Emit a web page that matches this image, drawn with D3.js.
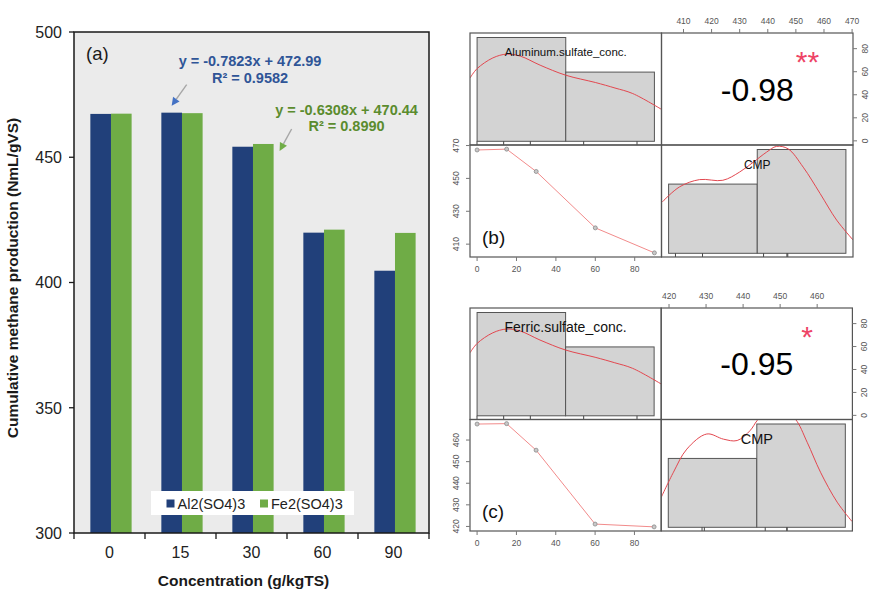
<!DOCTYPE html>
<html><head><meta charset="utf-8">
<script src="https://cdn.jsdelivr.net/npm/d3@7"></script>
<style>body{margin:0;background:#fff}svg{display:block;font-family:Arial,"Liberation Sans",sans-serif}</style>
</head><body><svg id="c" width="886" height="592"></svg>
<script>
// ---------- data ----------
const categories = ["0", "15", "30", "60", "90"];
const concentrations = [0, 15, 30, 60, 90];
const seriesNames = ["Al2(SO4)3", "Fe2(SO4)3"];
const alValues = [467.3, 467.8, 454.2, 419.9, 404.7];
const feValues = [467.4, 467.6, 455.3, 421.1, 419.8];
const yTicksA = [300, 350, 400, 450, 500];
const fitAlText = ["y = -0.7823x + 472.99", "R\u00B2 = 0.9582"];
const fitFeText = ["y = -0.6308x + 470.44", "R\u00B2 = 0.8990"];

const concDensity = [[-3.6,1.83],[0,2.1],[8,2.41],[15,2.52],[22,2.46],[32,2.2],[45,1.91],[60,1.7],[70,1.54],[79,1.38],[94,0.91]];
const alDensity = [[402.4,1.48],[408.6,1.92],[415.7,2.13],[424,2.11],[430,2.35],[434.8,2.63],[439.5,2.92],[443.1,3.09],[447.2,3.02],[452.6,2.49],[458.6,1.73],[464.5,0.96],[470.4,0.38]];
const feDensity = [[417.9,0.87],[421.2,1.6],[424.8,2.27],[430.2,2.71],[434.7,2.56],[438.4,2.52],[441.9,2.81],[443.8,3.1],[447,3.42],[451,3.36],[454.1,3.14],[457.3,2.47],[460.9,1.6],[465.4,0.73],[469.4,0.17]];

const concTicks = [0, 20, 40, 60, 80];
const alTopTicks = [410, 420, 430, 440, 450, 460, 470];
const alLeftTicks = [410, 430, 450, 470];
const feTopTicks = [420, 430, 440, 450, 460];
const feLeftTicks = [420, 430, 440, 450, 460];
const corrAl = "-0.98", starsAl = "**";
const corrFe = "-0.95", starsFe = "*";

// ---------- panel (a) ----------
const svg = d3.select("#c");
const A = {left: 74, right: 429, top: 32, bottom: 533};
const colors = {"Al2(SO4)3": "#21407a", "Fe2(SO4)3": "#6fac46"};

const x0 = d3.scaleBand().domain(categories).range([A.left, A.right]).padding(0);
const x1 = d3.scaleBand().domain(seriesNames).range([0, x0.bandwidth()])
  .paddingInner(0).paddingOuter(0.72).align(0.55);
const yA = d3.scaleLinear().domain([300, 500]).range([A.bottom, A.top]);

const gA = svg.append("g");
gA.append("rect").attr("x", A.left).attr("y", A.top)
  .attr("width", A.right - A.left).attr("height", A.bottom - A.top).attr("fill", "#ebebeb");

const seriesData = {"Al2(SO4)3": alValues, "Fe2(SO4)3": feValues};
seriesNames.forEach(s => {
  gA.selectAll(null).data(categories).enter().append("rect")
    .attr("x", (c) => x0(c) + x1(s))
    .attr("width", x1.bandwidth())
    .attr("y", (c, i) => yA(seriesData[s][i]))
    .attr("height", (c, i) => A.bottom - yA(seriesData[s][i]))
    .attr("fill", colors[s]);
});

gA.append("rect").attr("x", A.left).attr("y", A.top)
  .attr("width", A.right - A.left).attr("height", A.bottom - A.top)
  .attr("fill", "none").attr("stroke", "#1a1a1a").attr("stroke-width", 1.5);

// y ticks
yTicksA.forEach(t => {
  gA.append("line").attr("x1", A.left - 5).attr("x2", A.left).attr("y1", yA(t)).attr("y2", yA(t))
    .attr("stroke", "#1a1a1a").attr("stroke-width", 1.3);
  gA.append("text").attr("x", A.left - 12).attr("y", yA(t)).attr("dy", "0.36em")
    .attr("text-anchor", "end").attr("font-size", 16).attr("fill", "#222").text(t);
});
// x ticks at band boundaries
categories.concat([null]).forEach((c, i) => {
  const xx = c === null ? A.right : x0(c);
  gA.append("line").attr("x1", xx).attr("x2", xx).attr("y1", A.bottom).attr("y2", A.bottom + 6)
    .attr("stroke", "#1a1a1a").attr("stroke-width", 1.3);
});
categories.forEach(c => {
  gA.append("text").attr("x", x0(c) + x0.bandwidth() / 2).attr("y", 557.5)
    .attr("text-anchor", "middle").attr("font-size", 16).attr("fill", "#222").text(c);
});
// axis titles
gA.append("text").attr("transform", "translate(17.5,278) rotate(-90)")
  .attr("text-anchor", "middle").attr("font-size", 15.5).attr("font-weight", "bold").attr("fill", "#1a1a1a")
  .text("Cumulative methane production (NmL/gVS)");
gA.append("text").attr("x", 243.5).attr("y", 585.5)
  .attr("text-anchor", "middle").attr("font-size", 15.5).attr("font-weight", "bold").attr("fill", "#1a1a1a")
  .text("Concentration (g/kgTS)");
gA.append("text").attr("x", 86).attr("y", 59.5).attr("font-size", 18.5).attr("fill", "#1a1a1a").text("(a)");

// legend
gA.append("rect").attr("x", 151).attr("y", 491).attr("width", 203).attr("height", 24).attr("fill", "#fff");
const legX = [166.5, 260];
seriesNames.forEach((s, i) => {
  gA.append("rect").attr("x", legX[i]).attr("y", 499.5).attr("width", 8).attr("height", 8).attr("fill", colors[s]);
  gA.append("text").attr("x", legX[i] + 11).attr("y", 508.5).attr("font-size", 14.5).attr("fill", "#222").text(s);
});

// regression annotations
const blueTxt = "#2f5597", greenTxt = "#5b8c2e";
function annot(lines, cx, y0, col) {
  lines.forEach((l, i) => {
    gA.append("text").attr("x", cx).attr("y", y0 + i * 16.5).attr("text-anchor", "middle")
      .attr("font-size", 14.5).attr("font-weight", "bold").attr("fill", col).text(l);
  });
}
annot(fitAlText, 250, 66, blueTxt);
annot(fitFeText, 346.5, 114.5, greenTxt);

function arrow(tx, ty, sx, sy, headCol) {
  const ang = Math.atan2(ty - sy, tx - sx);
  const hl = 8, hw = 4;
  const bx = tx - hl * Math.cos(ang), by = ty - hl * Math.sin(ang);
  gA.append("line").attr("x1", sx).attr("y1", sy).attr("x2", bx).attr("y2", by)
    .attr("stroke", "#a6a6a6").attr("stroke-width", 1.4);
  const px = -Math.sin(ang) * hw, py = Math.cos(ang) * hw;
  gA.append("path").attr("d", `M${tx},${ty}L${bx + px},${by + py}L${bx - px},${by - py}Z`).attr("fill", headCol);
}
// blue arrow points to Al bar at 15
{
  const tx = x0("15") + x1("Al2(SO4)3") + x1.bandwidth() / 2, ty = yA(alValues[1]) - 7;
  arrow(tx, ty, tx + 15, ty - 21, "#4472c4");
}
// green arrow points to Fe bar at 30
{
  const tx = x0("30") + x1("Fe2(SO4)3") + x1.bandwidth() + 6, ty = yA(feValues[2]) + 7;
  arrow(tx, ty, tx + 12, ty - 22, "#70ad47");
}

// ---------- pairs panels (b), (c) ----------
let clipId = 0;
function pairs(cfg) {
  const L = cfg.left, T = cfg.top, cw = cfg.cw, ch = cfg.ch;
  const g = svg.append("g");
  const pad = e => { const r = e[1] - e[0]; return [e[0] - 0.04 * r, e[1] + 0.04 * r]; };
  const cExt = d3.extent(concentrations), mExt = d3.extent(cfg.cmp);
  const xC = d3.scaleLinear().domain(pad(cExt)).range([L, L + cw]);
  const xM = d3.scaleLinear().domain(pad(mExt)).range([L + cw, L + 2 * cw]);
  const yC = d3.scaleLinear().domain(pad(cExt)).range([T + ch, T]);
  const yM = d3.scaleLinear().domain(pad(mExt)).range([T + 2 * ch, T + ch]);
  const rugC = d3.scaleLinear().domain([0, 90]).range([L + 7, L + 167]);
  const rugM = d3.scaleLinear().domain([400, 470]).range([L + cw + 5.6, L + cw + 130.2]);

  function clip(x, y, w, h) {
    const id = "clip" + (clipId++);
    svg.append("clipPath").attr("id", id).append("rect").attr("x", x).attr("y", y).attr("width", w).attr("height", h);
    return "url(#" + id + ")";
  }
  function hist(vals, xs, cx, cy, density, rug) {
    const ext = d3.extent(vals);
    const mid = (ext[0] + ext[1]) / 2;
    const bins = d3.bin().domain(ext).thresholds([mid])(vals);
    const hy = d3.scaleLinear().domain([0, d3.max(bins, b => b.length)]).range([cy + ch - 3.7, cy + 4.5]);
    g.selectAll(null).data(bins).enter().append("rect")
      .attr("x", b => xs(b.x0)).attr("width", b => xs(b.x1) - xs(b.x0))
      .attr("y", b => hy(b.length)).attr("height", b => hy(0) - hy(b.length))
      .attr("fill", "#d3d3d3").attr("stroke", "#555").attr("stroke-width", 1);
    g.selectAll(null).data(vals).enter().append("line")
      .attr("x1", v => rug(v)).attr("x2", v => rug(v)).attr("y1", cy + ch).attr("y2", cy + ch - 3.7)
      .attr("stroke", "#444").attr("stroke-width", 1);
    g.append("path").attr("clip-path", clip(cx, cy, cw, ch))
      .attr("d", d3.line().x(d => xs(d[0])).y(d => hy(d[1])).curve(d3.curveCatmullRom)(density))
      .attr("fill", "none").attr("stroke", "#e2474f").attr("stroke-width", 1);
  }
  hist(concentrations, xC, L, T, concDensity, rugC);
  hist(cfg.cmp, xM, L + cw, T + ch, cfg.cmpDensity, rugM);

  // scatter
  const pts = concentrations.map((c, i) => [c, cfg.cmp[i]]);
  g.append("path").attr("d", d3.line().x(d => xC(d[0])).y(d => yM(d[1]))(pts))
    .attr("fill", "none").attr("stroke", "#f28b8b").attr("stroke-width", 1);
  g.selectAll(null).data(pts).enter().append("circle")
    .attr("cx", d => xC(d[0])).attr("cy", d => yM(d[1])).attr("r", 2)
    .attr("fill", "#c8c8c8").attr("stroke", "#8a8a8a").attr("stroke-width", 0.8);

  // cell borders
  [[0,0],[1,0],[0,1],[1,1]].forEach(([i,j]) => {
    g.append("rect").attr("x", L + i * cw).attr("y", T + j * ch).attr("width", cw).attr("height", ch)
      .attr("fill", "none").attr("stroke", "#555").attr("stroke-width", 1.2);
  });

  // texts
  g.append("text").attr("x", L + cw / 2).attr("y", T + 19).attr("dy", "0.35em").attr("text-anchor", "middle")
    .attr("font-size", cfg.varSize).attr("fill", "#111").text(cfg.varName);
  g.append("text").attr("x", L + 1.5 * cw).attr("y", T + ch + 19.5).attr("dy", "0.35em").attr("text-anchor", "middle")
    .attr("font-size", cfg.cmpSize).attr("fill", "#111").text("CMP");
  g.append("text").attr("x", L + 1.5 * cw).attr("y", T + ch / 2).attr("dy", "0.36em").attr("text-anchor", "middle")
    .attr("font-size", 32).attr("fill", "#000").text(cfg.corr);
  g.append("text").attr("x", L + cw + 146).attr("y", T + 38.5).attr("text-anchor", "middle")
    .attr("font-size", 30).attr("fill", "#ee4466").text(cfg.stars);
  g.append("text").attr("x", L + 12).attr("y", T + 2 * ch - 20).attr("dy", "0.36em")
    .attr("font-size", 19).attr("fill", "#111").text(cfg.panel);

  // axes
  const tc = "#777", lc = "#555", fs = 8.5;
  cfg.topTicks.forEach(t => {
    g.append("line").attr("x1", xM(t)).attr("x2", xM(t)).attr("y1", T).attr("y2", T - 4).attr("stroke", tc);
    g.append("text").attr("x", xM(t)).attr("y", T - 12).attr("dy", "0.35em").attr("text-anchor", "middle")
      .attr("font-size", fs).attr("fill", lc).text(t);
  });
  concTicks.forEach(t => {
    g.append("line").attr("x1", L + 2 * cw).attr("x2", L + 2 * cw + 4).attr("y1", yC(t)).attr("y2", yC(t)).attr("stroke", tc);
    g.append("text").attr("transform", `translate(${L + 2 * cw + 12},${yC(t)}) rotate(-90)`).attr("dy", "0.35em")
      .attr("text-anchor", "middle").attr("font-size", fs).attr("fill", lc).text(t);
    g.append("line").attr("x1", xC(t)).attr("x2", xC(t)).attr("y1", T + 2 * ch).attr("y2", T + 2 * ch + 4).attr("stroke", tc);
    g.append("text").attr("x", xC(t)).attr("y", T + 2 * ch + 12).attr("dy", "0.35em").attr("text-anchor", "middle")
      .attr("font-size", fs).attr("fill", lc).text(t);
  });
  cfg.leftTicks.forEach(t => {
    g.append("line").attr("x1", L).attr("x2", L - 4).attr("y1", yM(t)).attr("y2", yM(t)).attr("stroke", tc);
    g.append("text").attr("transform", `translate(${L - 14},${yM(t)}) rotate(-90)`).attr("dy", "0.35em")
      .attr("text-anchor", "middle").attr("font-size", fs).attr("fill", lc).text(t);
  });
}

pairs({left: 470, top: 33, cw: 191.5, ch: 112, cmp: alValues, cmpDensity: alDensity,
  varName: "Aluminum.sulfate_conc.", varSize: 11.5, cmpSize: 12, corr: corrAl, stars: starsAl, panel: "(b)",
  topTicks: alTopTicks, leftTicks: alLeftTicks});
pairs({left: 470, top: 308, cw: 191.2, ch: 111.5, cmp: feValues, cmpDensity: feDensity,
  varName: "Ferric.sulfate_conc.", varSize: 14, cmpSize: 14.5, corr: corrFe, stars: starsFe, panel: "(c)",
  topTicks: feTopTicks, leftTicks: feLeftTicks});
</script></body></html>
